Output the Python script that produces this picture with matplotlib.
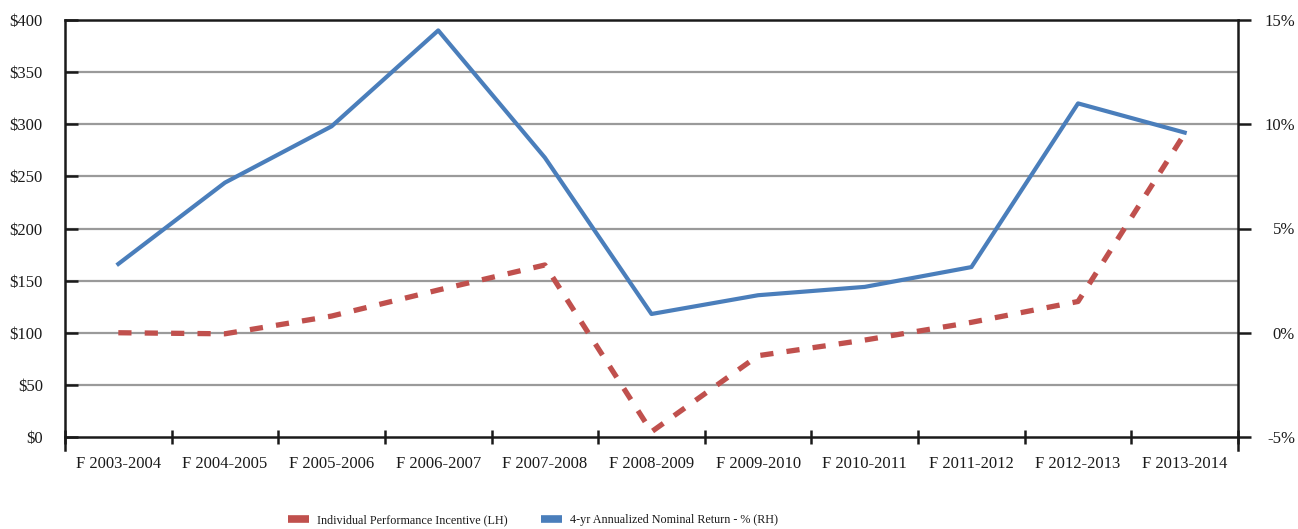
import matplotlib
matplotlib.use("Agg")
import matplotlib.pyplot as plt
from matplotlib.lines import Line2D

# Fiscal years on the category axis
years = ["F 2003-2004", "F 2004-2005", "F 2005-2006", "F 2006-2007",
         "F 2007-2008", "F 2008-2009", "F 2009-2010", "F 2010-2011",
         "F 2011-2012", "F 2012-2013", "F 2013-2014"]

# Individual Performance Incentive, dollars (left axis)
incentive = [100, 99, 116, 141, 165, 5, 78, 93, 110, 130, 291]

# 4-yr annualized nominal return, percent (right axis)
nominal_return = [3.3, 7.2, 9.9, 14.5, 8.4, 0.9, 1.8, 2.2, 3.15, 11.0, 9.6]

left_ticks = [0, 50, 100, 150, 200, 250, 300, 350, 400]
left_labels = ["$0", "$50", "$100", "$150", "$200", "$250", "$300", "$350", "$400"]
right_ticks = [-5, 0, 5, 10, 15]
right_labels = ["-5%", "0%", "5%", "10%", "15%"]

RED = "#C0504D"
BLUE = "#4A7EBB"
INK = "#1a1a1a"
FONT = "Liberation Serif"

plt.rcParams["font.family"] = [FONT, "DejaVu Serif"]

W, H = 1298, 529
fig = plt.figure(figsize=(W / 100, H / 100), dpi=100)
ax = fig.add_axes([65 / W, 1 - 437 / H, (1238 - 65) / W, (437 - 20) / H])
ax2 = ax.twinx()

xs = [i + 0.5 for i in range(len(years))]

# Left axis: dollars
ax.set_xlim(0, len(years))
ax.set_ylim(0, 400)
ax.set_yticks(left_ticks)
ax.set_yticklabels(left_labels, fontsize=12, color=INK)
ax.tick_params(axis="y", direction="in", length=9, width=1.8, color=INK, pad=16)
for y in left_ticks[1:-1]:
    ax.axhline(y, color="#9a9a9a", lw=1.6, zorder=1)

# Category axis: ticks at boundaries, labels at centres
ax.set_xticks(range(len(years) + 1))
ax.set_xticklabels([])
ax.set_xticks(xs, minor=True)
ax.set_xticklabels(years, minor=True, fontsize=12, color=INK)
ax.tick_params(axis="x", which="major", direction="inout", length=10, width=1.8, color=INK)
ax.tick_params(axis="x", which="minor", length=0, pad=14)

# Right axis: percent
ax2.set_ylim(-5, 15)
ax2.set_yticks(right_ticks)
ax2.set_yticklabels(right_labels, fontsize=12, color=INK)
ax2.tick_params(axis="y", direction="out", length=9, width=1.8, color=INK, pad=32)
for lbl in ax2.get_yticklabels():
    lbl.set_horizontalalignment("right")

for s in ax.spines.values():
    s.set_color(INK)
    s.set_linewidth(1.8)
ax.spines["right"].set_visible(False)
ax.spines["left"].set_bounds(-12.5, 400)
for name in ("left", "top", "bottom"):
    ax2.spines[name].set_visible(False)
ax2.spines["right"].set_color(INK)
ax2.spines["right"].set_linewidth(1.8)
ax2.spines["right"].set_bounds(-5.62, 15)

# Series
ax.plot(xs, incentive, color=RED, lw=3.8, dashes=(2.5, 2.5), zorder=3,
        solid_joinstyle="miter", clip_on=False)
ax2.plot(xs, nominal_return, color=BLUE, lw=3.0, zorder=3, clip_on=False)

handles = [Line2D([], [], color=RED, lw=5.5, solid_capstyle="butt"),
           Line2D([], [], color=BLUE, lw=5.5, solid_capstyle="butt")]
fig.legend(handles,
           ["Individual Performance Incentive (LH)",
            "4-yr Annualized Nominal Return - % (RH)"],
           loc="center", bbox_to_anchor=(533 / W, 1 - 520 / H), ncol=2,
           frameon=False, fontsize=8.7, handlelength=1.75, handletextpad=0.7,
           columnspacing=2.7, labelcolor=INK)

fig.savefig("out.png", dpi=100)
